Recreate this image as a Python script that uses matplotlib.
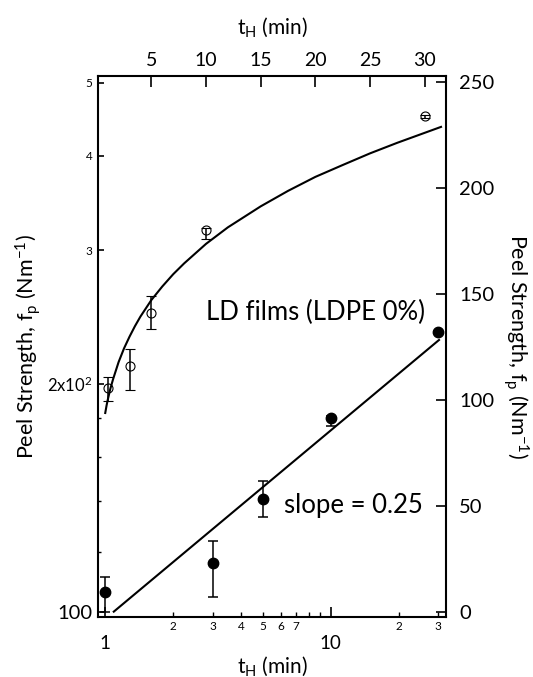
import matplotlib.pyplot as plt

plt.rcParams['font.family'] = ['Lato', 'DejaVu Sans']
plt.rcParams['mathtext.fontset'] = 'custom'
plt.rcParams['mathtext.rm'] = 'Lato'
plt.rcParams['mathtext.it'] = 'Lato:italic'
plt.rcParams['mathtext.bf'] = 'Lato:bold'

# heating time t_H (min) and peel strength f_p (N/m)
# same measurements shown twice: log-log (filled) and linear (open)
t_heat = [1, 3, 5, 10, 30]
peel = [106, 116, 141, 180.5, 234]
err_lo = [6.2, 11.3, 7.6, 4.4, 0.6]
err_hi = [5.0, 8.0, 8.0, 1.0, 0.6]

# power-law fit, slope 0.25 on log-log axes (end points)
fit_t = [1.09, 30.2]
fit_peel = [100, 228.5]

# same fit on the linear axes
curve_t = [0.78, 0.9, 1, 1.25, 1.5, 2, 2.5, 3, 3.5, 4, 5, 6, 7, 8, 10,
           12, 15, 17.5, 20, 22.5, 25, 27.5, 31.5]
curve_peel = [94, 97.5, 100, 105.5, 110, 118, 124.5, 130, 135, 139.5, 147.3,
              153.7, 159.5, 164.6, 173.8, 181.6, 191.5, 198.8, 205.4, 211,
              216.5, 221.5, 229]

left_ticks = [100, 200, 300, 400, 500]
left_labels = ['100', '2x10$^2$', '3', '4', '5']
left_sizes = [14.5, 12, 8.5, 8.5, 8.5]
left_minor = [120, 140, 160, 180]
bottom_minor = [2, 3, 4, 5, 6, 7, 8, 9, 20, 30]
bottom_minor_labels = ['2', '3', '4', '5', '6', '7', '', '', '2', '3']

fig = plt.figure(figsize=(5.33, 6.77), dpi=100)
rect = [0.1835, 0.0882, 0.6542, 0.7995]

# log-log axes (bottom / left)
ax = fig.add_axes(rect)
ax.set_xscale('log')
ax.set_yscale('log')
ax.errorbar(t_heat, peel, yerr=[err_lo, err_hi], fmt='o', color='black',
            ms=7.5, capsize=3.5, elinewidth=1.1, capthick=1.1, zorder=3)
ax.plot(fit_t, fit_peel, color='black', lw=1.5)
ax.set_xlim(0.926, 32.6)
ax.set_ylim(98.3, 510)

ax.set_xticks([1, 10], labels=['1', '10'])
ax.set_xticks(bottom_minor, labels=bottom_minor_labels, minor=True)
ax.set_yticks(left_ticks, labels=left_labels)
ax.set_yticks(left_minor, labels=['']*len(left_minor), minor=True)
for lab, fs in zip(ax.get_yticklabels(), left_sizes):
    lab.set_fontsize(fs)

ax.tick_params(axis='x', which='major', direction='in', length=7, width=1.2,
               pad=13, labelsize=13.5, top=False)
ax.tick_params(axis='x', which='minor', direction='in', length=3.6, width=1,
               pad=3, labelsize=8.5, top=False)
ax.tick_params(axis='y', which='major', direction='in', length=4.5, width=1.2,
               pad=4, right=False)
ax.tick_params(axis='y', which='minor', direction='in', length=2.5, width=1,
               right=False)
for sp in ax.spines.values():
    sp.set_linewidth(1.5)

# linear axes (top / right)
ax2 = fig.add_axes(rect, frameon=False)
ax2.errorbar(t_heat, peel, yerr=[err_lo, err_hi], fmt='o', color='black',
             mfc='none', ms=6.5, mew=0.8, capsize=3.5, elinewidth=1.1,
             capthick=1.1, zorder=3)
ax2.plot(curve_t, curve_peel, color='black', lw=1.5)
ax2.set_xlim(0.1, 32.0)
ax2.set_ylim(-2.4, 253)
ax2.set_xticks([5, 10, 15, 20, 25, 30])
ax2.set_yticks([0, 50, 100, 150, 200, 250])
ax2.tick_params(axis='x', direction='in', length=8, width=1.2, pad=5,
                labelsize=14, top=True, bottom=False, labeltop=True,
                labelbottom=False)
ax2.tick_params(axis='y', direction='in', length=7.5, width=1.2, pad=9,
                labelsize=14.5, right=True, left=False, labelright=True,
                labelleft=False)

ylab = 'Peel Strength, f$_\\mathrm{p}$ (Nm$^\\mathrm{-1}$)'
xlab = 't$_\\mathrm{H}$ (min)'
ax.text(-0.2, 0.5, ylab, rotation=90, ha='center', va='center',
        transform=ax.transAxes, fontsize=15.5)
ax.text(1.2, 0.5, ylab, rotation=270, ha='center', va='center',
        transform=ax.transAxes, fontsize=15.5)
ax.text(0.5, -0.091, xlab, ha='center', va='center',
        transform=ax.transAxes, fontsize=15)
ax.text(0.5, 1.09, xlab, ha='center', va='center',
        transform=ax.transAxes, fontsize=15)

ax.text(0.31, 0.563, 'LD films (LDPE 0%)', ha='left', va='center',
        transform=ax.transAxes, fontsize=18.5)
ax.text(0.534, 0.207, 'slope = 0.25', ha='left', va='center',
        transform=ax.transAxes, fontsize=18.5)

fig.savefig('out.png', dpi=100)
